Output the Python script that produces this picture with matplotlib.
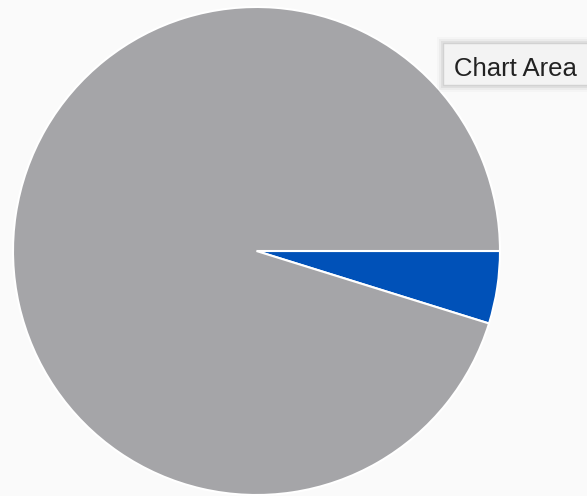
import matplotlib
matplotlib.use("Agg")
import matplotlib.pyplot as plt
from matplotlib.patches import Rectangle

labels = ["Other", "Selected"]
values = [95.2, 4.8]
colors = ["#a5a5a8", "#0051b8"]
tooltip_text = "Chart Area"

W, H = 587, 496
fig = plt.figure(figsize=(W / 100, H / 100), dpi=100)
fig.patch.set_facecolor("#fafafa")

# pie axes: circle spanning x 13..500 px, y 7..495 px (from top)
ax = fig.add_axes([13 / W, (H - 495) / H, 487 / W, 488 / H])
ax.pie(values[::-1], colors=colors[::-1], startangle=0, counterclock=False,
       radius=1.0, wedgeprops=dict(edgecolor="white", linewidth=1.5))
ax.set_xlim(-1.0, 1.0)
ax.set_ylim(-1.0, 1.0)
ax.set_aspect("auto")
ax.axis("off")

# tooltip box
for i, a in enumerate([0.05, 0.035, 0.02]):
    off = (i + 1) * 2
    fig.patches.append(Rectangle(((443 - off) / W, (H - 86 - off) / H),
                                 (150 + 2 * off) / W, (43 + 2 * off) / H,
                                 transform=fig.transFigure, facecolor="black",
                                 edgecolor="none", alpha=a, zorder=5))
fig.patches.append(Rectangle((443 / W, (H - 85) / H), 150 / W, 42 / H,
                             transform=fig.transFigure, facecolor="#f3f3f3",
                             edgecolor="#d2d2d2", linewidth=1.0, zorder=6))
fig.text(454 / W, (H - 69) / H, tooltip_text, fontsize=18.5, color="#222222",
         ha="left", va="center", zorder=7, family="Liberation Sans")

fig.savefig("out.png", dpi=100, facecolor=fig.get_facecolor())
